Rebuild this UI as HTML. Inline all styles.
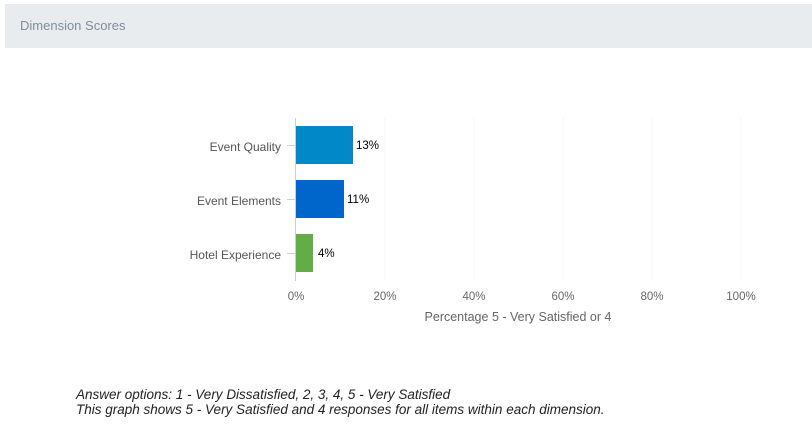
<!DOCTYPE html>
<html><head><style>
body{margin:0;width:812px;height:434px;background:#fff;font-family:"Liberation Sans",sans-serif;overflow:hidden;position:relative}
.hdr{position:absolute;left:5px;top:4px;width:807px;height:44px;background:#e9ecef}
.hdr span{position:absolute;left:15px;top:14px;font-size:13px;color:#7f8c9a}
.note{position:absolute;left:76px;top:387px;font-size:13.5px;font-style:italic;color:#222;line-height:15px}
</style></head><body>
<div class="hdr"><span>Dimension Scores</span></div>
<svg width="812" height="434" style="position:absolute;left:0;top:0" font-family="Liberation Sans, sans-serif">
<g stroke="#f5f5f5" stroke-width="1">
<line x1="385" y1="118" x2="385" y2="281"/><line x1="474" y1="118" x2="474" y2="281"/>
<line x1="563" y1="118" x2="563" y2="281"/><line x1="652" y1="118" x2="652" y2="281"/>
<line x1="741" y1="118" x2="741" y2="281"/>
</g>
<g stroke="#c8d0dc" stroke-width="1">
<line x1="295.5" y1="118" x2="295.5" y2="281"/>
<line x1="287" y1="145.5" x2="296" y2="145.5"/><line x1="287" y1="199.5" x2="296" y2="199.5"/><line x1="287" y1="253.5" x2="296" y2="253.5"/>
</g>
<rect x="296" y="126" width="57" height="38" fill="#0088c9"/>
<rect x="296" y="180" width="48" height="38" fill="#0066cc"/>
<rect x="296" y="234" width="17" height="38" fill="#62ad46"/>
<g font-size="11.5" fill="#000">
<text x="356" y="149">13%</text><text x="347" y="203">11%</text><text x="318" y="257">4%</text>
</g>
<g font-size="12" fill="#555" text-anchor="end">
<text x="281" y="151">Event Quality</text><text x="281" y="205">Event Elements</text><text x="281" y="259">Hotel Experience</text>
</g>
<g font-size="11.5" fill="#666" text-anchor="middle">
<text x="296" y="300">0%</text><text x="385" y="300">20%</text><text x="474" y="300">40%</text>
<text x="563" y="300">60%</text><text x="652" y="300">80%</text><text x="741" y="300">100%</text>
<text x="518" y="321" font-size="12.5">Percentage 5 - Very Satisfied or 4</text>
</g>
</svg>
<div class="note">Answer options: 1 - Very Dissatisfied, 2, 3, 4, 5 - Very Satisfied<br>This graph shows 5 - Very Satisfied and 4 responses for all items within each dimension.</div>
</body></html>
